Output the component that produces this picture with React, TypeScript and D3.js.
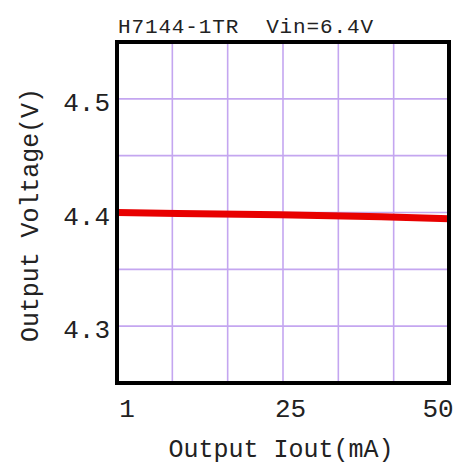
import React, { useEffect, useRef } from 'react';
import * as d3 from 'd3';

// Sampled off the reference curve
const iout = [1, 10, 25, 40, 50];
const vout = [4.4, 4.3992, 4.398, 4.3962, 4.3945];
const xTicks = [1, 25, 50];
const yTicks = [4.3, 4.4, 4.5];
const title = 'H7144-1TR  Vin=6.4V';
const xLabel = 'Output Iout(mA)';
const yLabel = 'Output Voltage(V)';

const App: React.FC = () => {
  const ref = useRef<SVGSVGElement>(null);

  useEffect(() => {
    if (!ref.current) return;
    const svg = d3.select(ref.current);
    svg.selectAll('*').remove();

    const W = 459, H = 464;
    const margin = { top: 42, right: 10, bottom: 81, left: 117 };
    const width = W - margin.left - margin.right;
    const height = H - margin.top - margin.bottom;
    const font = '"Liberation Mono", "DejaVu Sans Mono", monospace';

    svg.append('rect').attr('width', W).attr('height', H).attr('fill', '#fff');

    const g = svg.append('g').attr('transform', `translate(${margin.left},${margin.top})`);

    const x = d3.scaleLinear().domain([1, 50]).range([0, width]);
    const y = d3.scaleLinear().domain([4.25, 4.55]).range([height, 0]);

    // grid: 6 columns, 6 rows
    const xGrid = d3.range(1, 6).map(i => 1 + (49 * i) / 6);
    const yGrid = d3.range(1, 6).map(i => 4.25 + 0.05 * i);

    g.selectAll('.gx')
      .data(xGrid)
      .enter()
      .append('line')
        .attr('x1', d => x(d))
        .attr('x2', d => x(d))
        .attr('y1', 0)
        .attr('y2', height)
        .attr('stroke', '#c4a6f0')
        .attr('stroke-width', 1.6);

    g.selectAll('.gy')
      .data(yGrid)
      .enter()
      .append('line')
        .attr('x1', 0)
        .attr('x2', width)
        .attr('y1', d => y(d))
        .attr('y2', d => y(d))
        .attr('stroke', '#c4a6f0')
        .attr('stroke-width', 1.6);

    // curve
    const line = d3.line<number>()
      .x((_, i) => x(iout[i]))
      .y(d => y(d));

    g.append('path')
      .datum(vout)
      .attr('fill', 'none')
      .attr('stroke', '#e80000')
      .attr('stroke-width', 7)
      .attr('d', line);

    // frame
    g.append('rect')
      .attr('width', width)
      .attr('height', height)
      .attr('fill', 'none')
      .attr('stroke', '#000')
      .attr('stroke-width', 4);

    // y tick labels
    g.selectAll('.yt')
      .data(yTicks)
      .enter()
      .append('text')
        .attr('x', -7)
        .attr('y', d => y(d) + 12)
        .attr('text-anchor', 'end')
        .attr('font-family', font)
        .attr('font-size', 26)
        .attr('fill', '#222')
        .text(d => d.toFixed(1));

    // x tick labels
    const xOffset = (d: number) => (d === 1 ? 10 : d === 50 ? -11 : 11);
    g.selectAll('.xt')
      .data(xTicks)
      .enter()
      .append('text')
        .attr('x', d => x(d) + xOffset(d))
        .attr('y', height + 34)
        .attr('text-anchor', 'middle')
        .attr('font-family', font)
        .attr('font-size', 26)
        .attr('fill', '#222')
        .text(d => String(d));

    // title
    svg.append('text')
      .attr('x', 118)
      .attr('y', 33)
      .attr('font-family', font)
      .attr('font-size', 21)
      .attr('fill', '#222')
      .attr('textLength', 255)
      .attr('lengthAdjust', 'spacing')
      .style('white-space', 'pre')
      .text(title);

    // axis titles
    svg.append('text')
      .attr('x', 281)
      .attr('y', 457)
      .attr('text-anchor', 'middle')
      .attr('font-family', font)
      .attr('font-size', 25)
      .attr('fill', '#222')
      .attr('textLength', 225)
      .attr('lengthAdjust', 'spacing')
      .text(xLabel);

    svg.append('text')
      .attr('transform', `translate(38, 215) rotate(-90)`)
      .attr('text-anchor', 'middle')
      .attr('font-family', font)
      .attr('font-size', 25)
      .attr('fill', '#222')
      .attr('textLength', 254)
      .attr('lengthAdjust', 'spacing')
      .text(yLabel);
  }, []);

  return (
    <svg
      ref={ref}
      width={459}
      height={464}
      style={{ position: 'absolute', left: 0, top: 0, display: 'block' }}
    />
  );
};

export default App;
